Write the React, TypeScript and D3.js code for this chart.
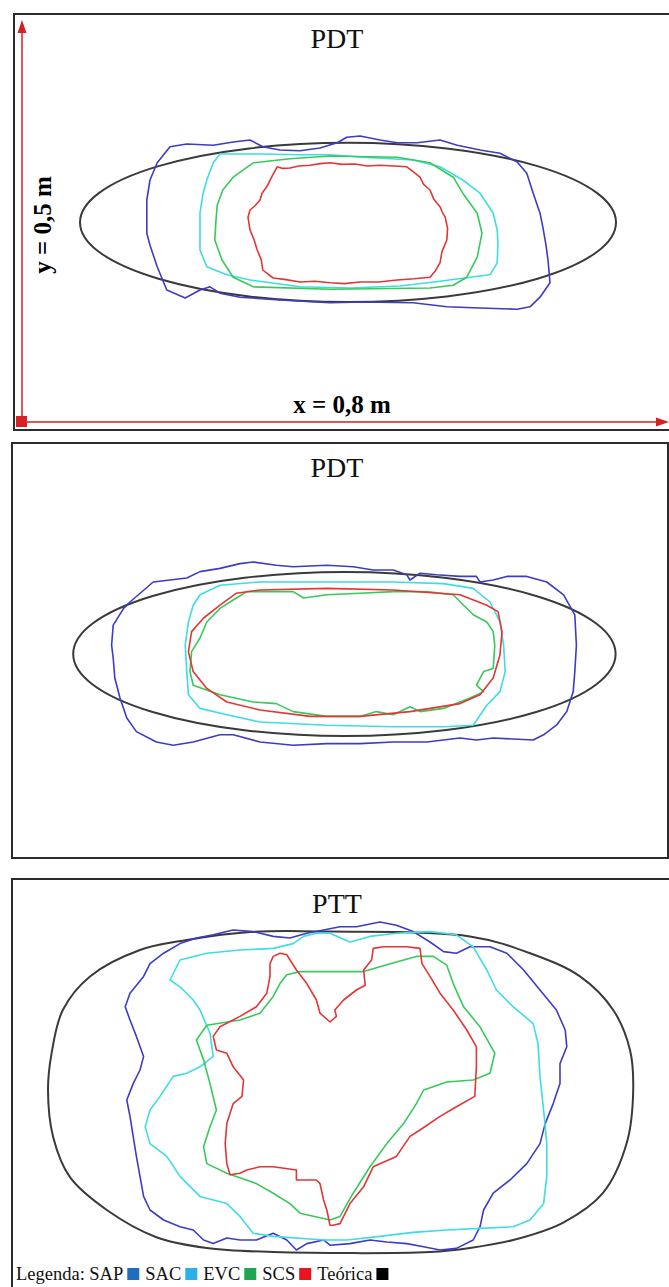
import React, { useRef, useEffect } from 'react';
import * as d3 from 'd3';

type Pt = [number, number];

// titles and legend entries
const panelTitles = ['PDT', 'PDT', 'PTT'];
const seriesNames = ['SAP', 'SAC', 'EVC', 'SCS', 'Teórica'];

// section size in cm (x = 0,8 m, y = 0,5 m)
const sectionWidth = 80;
const sectionHeight = 50;

// theoretical ellipses: cx, cy, rx, ry (cm)
const pdtATeorica = [40.75, 24.95, 33.5, 9.95];
const pdtBTeorica = [40.3, 24.5, 33.9, 10.25];

// ---- panel 1 (PDT) contours, cm ----
const pdtASAP: Pt[] = [
  [16.0, 30.25], [16.9, 32.4], [18.5, 34.4], [20.6, 34.75], [23.9, 34.6], [26.4, 35.0], [28.5, 35.25],
  [30.1, 34.4], [32.25, 34.0], [34.75, 33.9], [37.25, 34.25], [39.4, 34.9], [40.6, 35.6], [42.25, 35.75],
  [44.75, 35.25], [46.9, 34.9], [49.4, 34.9], [52.25, 35.25], [54.4, 34.6], [57.25, 34.0], [59.75, 33.6],
  [61.9, 32.5], [63.1, 31.1], [63.9, 28.6], [64.75, 26.1], [65.1, 24.4], [65.5, 22.1], [65.75, 20.25],
  [66.0, 17.4], [64.75, 15.6], [63.5, 14.4], [61.9, 14.1], [57.25, 14.25], [53.1, 14.4], [48.9, 14.9],
  [42.6, 15.0], [38.5, 14.9], [32.25, 15.25], [27.25, 15.6], [24.75, 16.1], [23.5, 16.9], [22.25, 16.5],
  [20.4, 15.5], [18.1, 16.5], [16.9, 19.4], [16.0, 22.1], [15.6, 23.6], [15.6, 27.75],
];
const pdtASAC: Pt[] = [
  [24.75, 33.5], [29.75, 33.5], [34.75, 33.4], [38.5, 33.4], [42.6, 33.1], [48.9, 32.75], [52.25, 31.9],
  [55.1, 30.25], [57.25, 28.6], [58.9, 26.1], [59.4, 24.0], [59.5, 22.4], [59.4, 19.9], [58.5, 18.4],
  [56.0, 18.1], [52.25, 17.6], [47.25, 17.0], [41.0, 16.75], [34.75, 16.9], [28.5, 17.75], [25.6, 18.4],
  [23.1, 19.4], [22.25, 21.5], [22.25, 26.1], [22.6, 28.4], [23.1, 30.25], [23.9, 32.4],
];
const pdtAEVC: Pt[] = [
  [28.9, 32.4], [33.5, 32.9], [38.5, 33.25], [46.9, 33.1], [51.0, 32.4], [53.9, 30.6], [55.1, 28.6],
  [56.9, 26.1], [57.5, 23.6], [56.9, 20.6], [55.6, 18.1], [53.9, 17.1], [51.0, 16.75], [38.5, 16.6],
  [28.9, 16.9], [26.4, 18.1], [25.0, 20.25], [24.1, 22.75], [24.25, 25.25], [24.4, 27.1], [25.1, 29.0],
  [26.4, 30.6],
];
const pdtASCS: Pt[] = [
  [31.9, 31.9], [32.6, 31.7], [33.5, 31.75], [34.6, 32.0], [36.0, 32.1], [37.3, 32.3], [38.5, 32.4],
  [40.0, 32.2], [41.6, 32.25], [43.2, 32.0], [44.75, 32.1], [46.5, 32.0], [48.1, 31.9], [49.0, 31.2],
  [49.75, 30.6], [50.2, 29.7], [51.0, 29.0], [51.5, 27.8], [52.25, 26.9], [52.6, 26.1], [52.9, 25.6],
  [53.2, 24.2], [53.1, 22.75], [52.5, 21.3], [52.25, 19.9], [51.6, 18.8], [51.0, 18.1], [49.0, 17.9],
  [46.9, 17.75], [44.6, 17.5], [42.25, 17.5], [40.3, 17.3], [38.5, 17.4], [36.6, 17.6], [34.75, 17.5],
  [33.0, 17.8], [31.4, 18.0], [30.6, 18.6], [30.1, 19.0], [29.9, 20.3], [29.4, 21.5], [29.0, 22.8],
  [28.5, 24.0], [28.25, 25.6], [28.5, 26.5], [29.1, 27.0], [29.75, 27.75], [30.0, 28.6], [30.6, 29.4],
  [31.2, 30.6],
];

// ---- panel 2 (PDT) contours, cm ----
const pdtBSAP: Pt[] = [
  [12.7, 30.2], [13.5, 31.0], [16.4, 33.5], [20.6, 34.0], [22.25, 34.8], [24.75, 35.2], [27.25, 35.8],
  [28.9, 36.0], [31.8, 35.6], [33.9, 35.4], [38.1, 35.6], [41.4, 35.4], [43.9, 35.0], [46.4, 35.0],
  [48.1, 34.4], [48.5, 33.75], [49.75, 34.6], [51.8, 34.4], [54.75, 34.2], [56.8, 34.2], [57.25, 33.5],
  [58.9, 33.75], [60.6, 34.2], [63.1, 34.2], [65.6, 33.5], [67.7, 31.9], [69.1, 29.4], [69.3, 25.6],
  [69.1, 22.3], [68.9, 19.8], [68.1, 17.3], [66.8, 15.6], [65.2, 14.4], [63.9, 13.75], [58.9, 14.0],
  [56.8, 13.75], [54.75, 14.0], [50.6, 13.5], [46.4, 13.5], [42.25, 13.3], [38.1, 13.3], [33.9, 13.1],
  [29.75, 13.5], [26.4, 14.4], [24.75, 14.4], [21.4, 13.5], [18.9, 13.1], [16.8, 13.5], [14.3, 14.8],
  [13.1, 16.5], [12.25, 19.0], [11.6, 21.5], [11.4, 24.0], [11.2, 25.6], [11.4, 28.1],
];
const pdtBSAC: Pt[] = [
  [21.4, 30.6], [22.25, 31.9], [24.75, 33.1], [29.75, 33.5], [38.1, 33.5], [46.4, 33.5], [52.7, 33.3],
  [56.4, 32.7], [58.5, 31.0], [59.75, 28.5], [60.2, 25.6], [60.4, 22.3], [59.75, 19.8], [58.1, 18.1],
  [56.4, 15.6], [52.7, 15.4], [46.4, 15.4], [38.1, 15.6], [29.75, 16.0], [25.6, 16.9], [22.25, 17.7],
  [20.8, 19.4], [20.6, 22.3], [20.4, 25.6], [20.8, 28.5],
];
const pdtBEVC: Pt[] = [
  [28.1, 32.3], [33.9, 32.3], [35.2, 31.5], [38.1, 31.9], [42.25, 32.1], [46.4, 32.3], [50.6, 32.3],
  [53.9, 31.9], [55.2, 30.6], [56.4, 29.4], [58.1, 28.5], [58.9, 27.3], [59.1, 25.6], [58.9, 22.7],
  [57.7, 22.3], [56.8, 20.6], [57.7, 19.8], [56.0, 19.0], [52.7, 17.7], [49.75, 17.3], [48.5, 17.9],
  [46.4, 16.9], [44.3, 17.3], [42.25, 16.7], [38.1, 16.7], [33.9, 17.3], [31.8, 18.3], [28.9, 18.5],
  [24.75, 19.4], [21.4, 20.6], [21.0, 22.3], [21.2, 24.8], [22.25, 26.5], [23.1, 28.5], [24.75, 30.2],
  [26.8, 31.5],
];
const pdtBSCS: Pt[] = [
  [26.8, 32.1], [29.75, 32.5], [38.1, 32.7], [46.4, 32.5], [54.75, 31.9], [58.1, 30.6], [59.5, 29.8],
  [60.0, 27.3], [59.75, 24.4], [58.9, 21.5], [57.25, 19.4], [54.75, 18.3], [48.5, 17.3], [42.25, 16.7],
  [36.0, 16.7], [29.75, 17.5], [25.6, 18.5], [23.1, 20.2], [21.4, 22.3], [20.8, 24.8], [21.2, 27.3],
  [22.7, 29.0], [24.75, 30.6],
];

// ---- panel 3 (PTT) contours, cm ----
const pttTeorica: Pt[] = [
  [20.6, 43.75], [28.5, 44.75], [38.5, 44.8], [56.0, 44.2], [63.5, 42.1], [69.75, 39.2], [73.9, 35.0],
  [76.0, 30.0], [76.4, 25.0], [75.6, 18.4], [72.6, 12.1], [67.6, 8.4], [61.4, 6.25], [56.0, 5.25],
  [51.0, 4.75], [31.4, 4.75], [23.1, 5.25], [16.8, 6.6], [10.6, 10.0], [6.0, 14.1], [3.9, 19.1],
  [3.25, 25.0], [3.7, 29.6], [5.1, 35.0], [8.5, 39.2], [14.75, 42.5],
];
const pttSAP: Pt[] = [
  [21.8, 44.0], [23.9, 44.4], [26.4, 45.0], [28.9, 44.8], [31.4, 44.2], [33.5, 44.0], [35.6, 44.6],
  [37.7, 45.0], [39.75, 45.4], [41.8, 45.4], [44.75, 46.0], [46.8, 45.6], [48.9, 44.8], [51.0, 43.5],
  [52.7, 42.3], [54.3, 42.1], [56.0, 42.9], [58.5, 42.9], [60.6, 42.1], [62.7, 40.0], [64.75, 37.5],
  [66.8, 35.0], [67.9, 32.5], [68.1, 30.4], [67.25, 28.3], [67.25, 25.8], [66.4, 23.3], [65.4, 20.8],
  [64.75, 18.3], [63.1, 15.8], [61.0, 13.75], [58.9, 12.1], [57.7, 10.0], [57.25, 7.9], [56.4, 6.25],
  [54.3, 5.2], [52.25, 5.0], [50.2, 5.4], [48.1, 5.8], [45.6, 6.0], [43.5, 6.25], [41.0, 5.8],
  [38.5, 5.6], [37.7, 6.25], [35.6, 5.8], [34.3, 5.0], [33.1, 6.25], [31.4, 7.1], [29.3, 6.25],
  [27.25, 6.25], [25.6, 6.5], [23.9, 5.8], [22.7, 6.25], [21.4, 7.5], [19.75, 7.9], [17.7, 8.75],
  [16.0, 10.0], [15.2, 11.7], [14.75, 14.2], [14.3, 16.7], [13.9, 19.2], [13.5, 21.7], [13.1, 23.75],
  [13.9, 25.8], [14.75, 27.5], [15.2, 29.2], [14.3, 31.7], [13.5, 33.75], [12.9, 35.4], [13.5, 37.1],
  [15.2, 39.2], [16.0, 40.8], [17.7, 42.1], [19.75, 43.3],
];
const pttSAC: Pt[] = [
  [18.5, 38.75], [19.75, 41.25], [23.1, 42.1], [27.25, 42.5], [31.4, 42.7], [33.9, 43.3], [35.2, 44.2],
  [36.8, 44.6], [38.5, 44.6], [41.0, 43.5], [43.5, 44.2], [46.8, 44.6], [51.0, 44.8], [54.3, 44.4],
  [56.4, 42.9], [58.1, 40.0], [59.3, 37.5], [61.4, 35.4], [63.9, 33.3], [64.5, 30.8], [64.75, 26.7],
  [65.2, 22.5], [65.6, 18.3], [65.6, 14.2], [65.2, 10.8], [63.5, 8.75], [61.4, 7.9], [57.25, 7.7],
  [53.1, 7.5], [48.9, 7.2], [44.75, 6.7], [40.6, 6.25], [37.7, 6.25], [31.4, 6.7], [28.9, 7.1],
  [27.25, 9.2], [25.6, 10.8], [22.25, 11.7], [19.75, 14.2], [18.1, 16.7], [16.0, 18.3], [15.4, 20.4],
  [16.0, 22.5], [17.25, 24.2], [18.9, 26.7], [20.6, 27.1], [22.25, 27.9], [23.9, 29.2], [23.5, 32.1],
  [22.25, 35.0], [21.4, 36.25], [19.75, 37.9],
];
const pttEVC: Pt[] = [
  [33.1, 39.4], [34.75, 39.8], [38.5, 39.8], [42.7, 39.8], [46.8, 41.0], [49.3, 41.7], [51.4, 41.7],
  [53.1, 40.6], [53.9, 38.3], [55.2, 35.4], [57.25, 32.9], [59.1, 29.6], [58.5, 27.1], [56.4, 26.25],
  [53.1, 26.0], [50.2, 25.0], [49.3, 23.3], [47.7, 20.8], [45.6, 18.3], [43.5, 15.4], [41.4, 12.1],
  [39.75, 9.2], [38.5, 8.75], [34.75, 9.6], [33.5, 10.8], [31.4, 12.1], [29.3, 13.3], [25.6, 14.6],
  [23.1, 15.8], [22.7, 17.9], [23.5, 20.4], [24.3, 22.5], [23.5, 25.8], [22.7, 28.75], [21.8, 31.25],
  [23.1, 33.1], [27.25, 33.75], [29.75, 34.6], [31.4, 36.7], [32.25, 38.3],
];
const pttSCS: Pt[] = [
  [31.4, 41.7], [32.25, 42.1], [33.1, 41.9], [34.3, 40.0], [35.6, 38.3], [36.8, 36.25], [37.25, 34.6],
  [38.5, 33.5], [39.3, 34.2], [39.1, 35.0], [40.2, 36.25], [41.8, 37.5], [42.9, 38.1], [42.7, 40.0],
  [43.7, 41.25], [43.9, 42.7], [45.2, 42.9], [48.1, 42.9], [49.75, 42.7], [50.0, 40.8], [51.0, 39.2],
  [52.25, 37.1], [53.9, 35.0], [55.6, 32.5], [56.8, 30.4], [56.8, 27.9], [56.6, 24.2], [54.3, 22.9],
  [52.25, 21.7], [49.75, 20.0], [48.5, 19.2], [46.8, 16.7], [43.9, 15.4], [42.7, 12.9], [41.0, 10.8],
  [39.75, 8.3], [38.9, 8.1], [38.5, 8.1], [38.1, 10.0], [37.7, 11.25], [37.25, 13.3], [36.8, 13.75],
  [34.3, 13.75], [34.3, 15.0], [31.4, 15.4], [29.75, 15.4], [28.1, 15.0], [27.25, 14.6], [26.0, 14.4],
  [25.6, 15.8], [25.4, 18.3], [25.6, 20.8], [26.4, 23.3], [27.5, 24.2], [27.7, 26.25], [26.4, 27.9],
  [25.6, 29.6], [24.3, 30.0], [23.9, 31.7], [24.75, 32.9], [27.25, 34.2], [29.3, 35.4], [30.6, 37.1],
  [31.0, 39.2], [31.0, 40.8],
];

const lineColors: Record<string, string> = {
  SAP: '#3c3cc6',
  SAC: '#3ddde3',
  EVC: '#38c95a',
  SCS: '#e23636',
  'Teórica': '#3a3a3a',
};
const legendColors: Record<string, string> = {
  SAP: '#1f6dbf',
  SAC: '#2aafe6',
  EVC: '#20a650',
  SCS: '#e8141e',
  'Teórica': '#000000',
};

const W = 669;
const H = 1287;
const PX_PER_CM = 8;
const serif = '"Liberation Serif", "Times New Roman", serif';

const App: React.FC = () => {
  const svgRef = useRef<SVGSVGElement>(null);

  useEffect(() => {
    if (!svgRef.current) return;
    const svg = d3.select(svgRef.current);
    svg.selectAll('*').remove();
    svg.attr('width', W).attr('height', H);

    svg.append('rect').attr('width', W).attr('height', H).attr('fill', '#fff');

    // frame + origin of each panel
    const panels = [
      { x0: 14, y0: 14, x1: 700, y1: 430, ox: 22, oy: 422 },
      { x0: 12, y0: 443, x1: 668, y1: 858, ox: 22, oy: 850 },
      { x0: 12, y0: 879, x1: 700, y1: 1320, ox: 22, oy: 1290 },
    ];

    const contours: { name: string; pts: Pt[] }[][] = [
      [
        { name: 'SAP', pts: pdtASAP },
        { name: 'SAC', pts: pdtASAC },
        { name: 'EVC', pts: pdtAEVC },
        { name: 'SCS', pts: pdtASCS },
      ],
      [
        { name: 'SAP', pts: pdtBSAP },
        { name: 'SAC', pts: pdtBSAC },
        { name: 'EVC', pts: pdtBEVC },
        { name: 'SCS', pts: pdtBSCS },
      ],
      [
        { name: 'SAP', pts: pttSAP },
        { name: 'SAC', pts: pttSAC },
        { name: 'EVC', pts: pttEVC },
        { name: 'SCS', pts: pttSCS },
      ],
    ];
    const ellipses = [pdtATeorica, pdtBTeorica];

    panels.forEach((p, i) => {
      const x = d3.scaleLinear().domain([0, sectionWidth]).range([p.ox, p.ox + sectionWidth * PX_PER_CM]);
      const y = d3.scaleLinear().domain([0, sectionHeight]).range([p.oy, p.oy - sectionHeight * PX_PER_CM]);
      const g = svg.append('g');

      g.append('rect')
        .attr('x', p.x0).attr('y', p.y0)
        .attr('width', p.x1 - p.x0).attr('height', p.y1 - p.y0)
        .attr('fill', 'none').attr('stroke', '#2b2b2b').attr('stroke-width', 2);

      g.append('text')
        .attr('x', 337).attr('y', p.y0 + 34)
        .attr('text-anchor', 'middle')
        .attr('font-family', serif).attr('font-size', 28)
        .attr('fill', '#111')
        .text(panelTitles[i]);

      // theoretical section
      if (i < 2) {
        const [cx, cy, rx, ry] = ellipses[i];
        g.append('ellipse')
          .attr('cx', x(cx)).attr('cy', y(cy))
          .attr('rx', x(rx) - x(0)).attr('ry', y(0) - y(ry))
          .attr('fill', 'none').attr('stroke', lineColors['Teórica']).attr('stroke-width', 2);
      } else {
        const smooth = d3.line<Pt>().x(d => x(d[0])).y(d => y(d[1])).curve(d3.curveCatmullRomClosed);
        g.append('path')
          .attr('d', smooth(pttTeorica) as string)
          .attr('fill', 'none').attr('stroke', lineColors['Teórica']).attr('stroke-width', 2);
      }

      const line = d3.line<Pt>().x(d => x(d[0])).y(d => y(d[1])).curve(d3.curveLinearClosed);
      contours[i].forEach(c => {
        g.append('path')
          .attr('d', line(c.pts) as string)
          .attr('fill', 'none')
          .attr('stroke', lineColors[c.name])
          .attr('stroke-width', 1.6)
          .attr('stroke-linejoin', 'round');
      });

      // dimension arrows on the first panel
      if (i === 0) {
        const red = '#d42222';
        const ax = x(0);
        const ay = y(0);
        g.append('line').attr('x1', ax).attr('y1', ay).attr('x2', ax).attr('y2', 30)
          .attr('stroke', red).attr('stroke-width', 1.5);
        g.append('line').attr('x1', ax).attr('y1', ay).attr('x2', 660).attr('y2', ay)
          .attr('stroke', red).attr('stroke-width', 1.5);
        g.append('path').attr('d', `M${ax},20L${ax - 4.5},33L${ax + 4.5},33Z`).attr('fill', red);
        g.append('path').attr('d', `M669,${ay}L656,${ay - 4.5}L656,${ay + 4.5}Z`).attr('fill', red);
        g.append('rect').attr('x', ax - 6).attr('y', ay - 6).attr('width', 11).attr('height', 11).attr('fill', red);

        g.append('text')
          .attr('x', 342).attr('y', 413)
          .attr('text-anchor', 'middle')
          .attr('font-family', serif).attr('font-size', 25).attr('font-weight', 'bold')
          .text(`x = ${sectionWidth / 100} m`.replace('.', ','));
        g.append('text')
          .attr('transform', `translate(51,225) rotate(-90)`)
          .attr('text-anchor', 'middle')
          .attr('font-family', serif).attr('font-size', 25).attr('font-weight', 'bold')
          .text(`y = ${sectionHeight / 100} m`.replace('.', ','));
      }
    });

    // legend
    const lg = svg.append('g');
    let cursor = 16;
    const base = 1280;
    const fs = 18.5;
    const label = lg.append('text')
      .attr('x', cursor).attr('y', base)
      .attr('font-family', serif).attr('font-size', fs).attr('fill', '#111')
      .text('Legenda:');
    cursor += (label.node() as SVGTextElement).getComputedTextLength() + 4.5;
    seriesNames.forEach(name => {
      const t = lg.append('text')
        .attr('x', cursor).attr('y', base)
        .attr('font-family', serif).attr('font-size', fs).attr('fill', '#111')
        .text(name);
      cursor += (t.node() as SVGTextElement).getComputedTextLength() + 4;
      lg.append('rect')
        .attr('x', cursor).attr('y', base - 12)
        .attr('width', 12).attr('height', 12)
        .attr('fill', legendColors[name]);
      cursor += 12 + 6;
    });
  }, []);

  return (
    <svg
      ref={svgRef}
      style={{ position: 'absolute', left: 0, top: 0, display: 'block' }}
    ></svg>
  );
};

export default App;
